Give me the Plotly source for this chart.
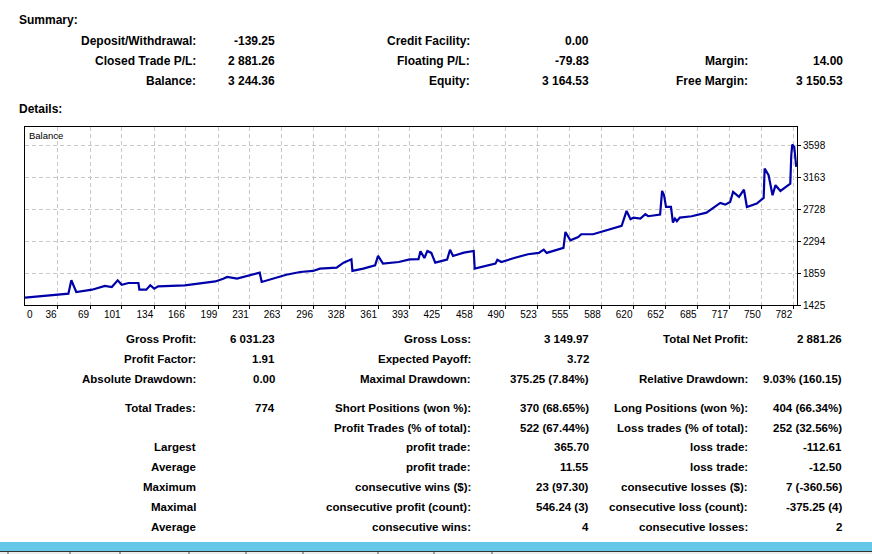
import plotly.graph_objects as go

W, H = 872, 554

# ---------------- data ----------------
trade_idx = [3, 47, 50, 55, 71, 84, 91, 94, 97, 101, 108, 118, 119, 126, 130, 134, 138, 165, 182, 196,
             204, 208, 218, 230, 241, 243, 255, 268, 282, 295, 302, 319, 326, 334, 335, 346, 358, 361, 366, 382, 393,
             402, 404, 408, 411, 415, 419, 431, 434, 437, 448, 458, 459, 469, 480, 482, 486, 499, 513, 524, 529, 532,
             549, 551, 556, 564, 567, 579, 591,
             597, 608, 613, 617, 620, 627, 632, 635, 647, 649, 651, 653, 658, 660, 662, 664, 667, 679, 694, 703, 708,
             713, 718, 721, 727, 732, 735, 745, 752, 753, 757, 761, 764, 769, 779, 780, 781, 783, 784, 785]
balance = [1524, 1579, 1761, 1602, 1633, 1684, 1670, 1715, 1761, 1701, 1724, 1724, 1633, 1633, 1693, 1647, 1679, 1693, 1724, 1745,
           1783, 1806, 1783, 1829, 1864, 1738, 1783, 1837, 1874, 1888, 1919, 1933, 2001, 2047, 1888, 1919, 1965, 2092, 1987, 2010, 2045,
           2047, 2156, 2064, 2160, 2133, 2001, 2041, 2177, 2092, 2137, 2160, 1919, 1956, 1987, 2041, 2010, 2064, 2115, 2133, 2177, 2133,
           2201, 2418, 2305, 2350, 2387, 2387, 2432,
           2463, 2500, 2704, 2591, 2613, 2599, 2659, 2632, 2654, 2976, 2917, 2758, 2758, 2545, 2599, 2564, 2613, 2632, 2681, 2758, 2813,
           2790, 2826, 2963, 2895, 2994, 2758, 2803, 2881, 3280, 3190, 2917, 3054, 2976, 3075, 3462, 3606, 3575, 3448, 3303]

x_ticks = [36, 69, 101, 134, 166, 199, 231, 263, 296, 328, 361, 393, 425, 458, 490, 523, 555, 588, 620, 652, 685, 717, 750, 782]
y_ticks = [1425, 1859, 2294, 2728, 3163, 3598]

summary_rows = [
    ["Deposit/Withdrawal:", "-139.25", "Credit Facility:", "0.00", "", ""],
    ["Closed Trade P/L:", "2 881.26", "Floating P/L:", "-79.83", "Margin:", "14.00"],
    ["Balance:", "3 244.36", "Equity:", "3 164.53", "Free Margin:", "3 150.53"],
]
details_rows = [
    ["Gross Profit:", "6 031.23", "Gross Loss:", "3 149.97", "Total Net Profit:", "2 881.26"],
    ["Profit Factor:", "1.91", "Expected Payoff:", "3.72", "", ""],
    ["Absolute Drawdown:", "0.00", "Maximal Drawdown:", "375.25 (7.84%)", "Relative Drawdown:", "9.03% (160.15)"],
    ["Total Trades:", "774", "Short Positions (won %):", "370 (68.65%)", "Long Positions (won %):", "404 (66.34%)"],
    ["", "", "Profit Trades (% of total):", "522 (67.44%)", "Loss trades (% of total):", "252 (32.56%)"],
    ["Largest", "", "profit trade:", "365.70", "loss trade:", "-112.61"],
    ["Average", "", "profit trade:", "11.55", "loss trade:", "-12.50"],
    ["Maximum", "", "consecutive wins ($):", "23 (97.30)", "consecutive losses ($):", "7 (-360.56)"],
    ["Maximal", "", "consecutive profit (count):", "546.24 (3)", "consecutive loss (count):", "-375.25 (4)"],
    ["Average", "", "consecutive wins:", "4", "consecutive losses:", "2"],
]

# ---------------- layout helpers ----------------
def px(x):
    return x / W

def py(y):
    return 1 - y / H

PLOT_L, PLOT_R, PLOT_T, PLOT_B = 25, 797, 127, 305

fig = go.Figure()
fig.add_trace(go.Scatter(x=trade_idx, y=balance, mode="lines",
                         line=dict(color="#0000A8", width=2.2), hoverinfo="skip", showlegend=False))

annotations = []
SUM_FONT = dict(family="Liberation Sans, Arial", size=12, color="#000000")
DET_FONT = dict(family="Liberation Sans, Arial", size=11.5, color="#000000")
HEAD_FONT = dict(family="Liberation Sans, Arial", size=12, color="#000000")

def txt(x, y, s, font, anchor="right"):
    if s == "":
        return
    annotations.append(dict(x=px(x), y=py(y), xref="paper", yref="paper", text="<b>%s</b>" % s,
                            showarrow=False, xanchor=anchor, yanchor="middle", font=font,
                            borderpad=0, borderwidth=0))

txt(19, 19.5, "Summary:", HEAD_FONT, "left")
txt(19, 108.5, "Details:", HEAD_FONT, "left")

sum_cols = [196, 275, 470, 589, 748, 843]
sum_ys = [41, 61, 81]
for r, row in zip(sum_ys, summary_rows):
    for c, s in zip(sum_cols, row):
        txt(c, r, s, SUM_FONT)

det_cols = [196, 275, 471, 589, 748, 842]
det_ys = [338.5, 358.5, 378.5, 407.5, 427.5, 446.5, 466.5, 486.5, 506.5, 526.5]
for r, row in zip(det_ys, details_rows):
    for c, s in zip(det_cols, row):
        txt(c, r, s, DET_FONT)

# chart label and first x label
annotations.append(dict(x=px(28), y=py(135.5), xref="paper", yref="paper", text="Balance", showarrow=False,
                        xanchor="left", yanchor="middle", borderpad=0,
                        font=dict(family="Liberation Sans", size=9.5, color="#000")))
annotations.append(dict(x=px(26), y=py(314), xref="paper", yref="paper", text="0", showarrow=False,
                        xanchor="left", yanchor="middle", borderpad=0,
                        font=dict(family="Liberation Sans", size=10, color="#000")))

shapes = [
    dict(type="rect", xref="paper", yref="paper", x0=0, x1=1, y0=py(551), y1=py(542),
         fillcolor="#66C8E8", line=dict(width=0), layer="above"),
    dict(type="rect", xref="paper", yref="paper", x0=0, x1=1, y0=0, y1=py(551.5),
         fillcolor="#EDEDED", line=dict(width=0), layer="above"),
    dict(type="line", xref="paper", yref="paper", x0=0, x1=1, y0=py(551.5), y1=py(551.5),
         line=dict(color="#333333", width=1), layer="above"),
]
for d in [8, 70, 120, 189, 246, 303, 378, 434, 492]:
    shapes.append(dict(type="line", xref="paper", yref="paper", x0=px(d), x1=px(d), y0=0, y1=py(552),
                       line=dict(color="#555555", width=1), layer="above"))

fig.update_layout(
    width=W, height=H, margin=dict(l=0, r=0, t=0, b=0, pad=0, autoexpand=False),
    paper_bgcolor="#FFFFFF", plot_bgcolor="#FFFFFF",
    annotations=annotations, shapes=shapes, showlegend=False,
    xaxis=dict(domain=[px(PLOT_L), px(PLOT_R)], range=[3, 785.8], tickvals=x_ticks,
               ticktext=[str(v) for v in x_ticks], ticklabelposition="outside left", automargin=False,
               ticks="outside", ticklen=3, tickcolor="#000", showgrid=True, gridcolor="#C8C8C8",
               griddash="4px,3px", gridwidth=1, zeroline=False, showline=True, linecolor="#000",
               linewidth=1, mirror=True, tickfont=dict(family="Liberation Sans", size=10, color="#000")),
    yaxis=dict(domain=[py(PLOT_B), py(PLOT_T)], range=[1425, 3845], tickvals=y_ticks,
               ticktext=[str(v) for v in y_ticks], side="right", automargin=False,
               ticks="outside", ticklen=3, tickcolor="#000", showgrid=True, gridcolor="#C8C8C8",
               griddash="4px,3px", gridwidth=1, zeroline=False, showline=True, linecolor="#000",
               linewidth=1, mirror=True, tickfont=dict(family="Liberation Sans", size=10, color="#000")),
)

fig.write_html("out.html")
